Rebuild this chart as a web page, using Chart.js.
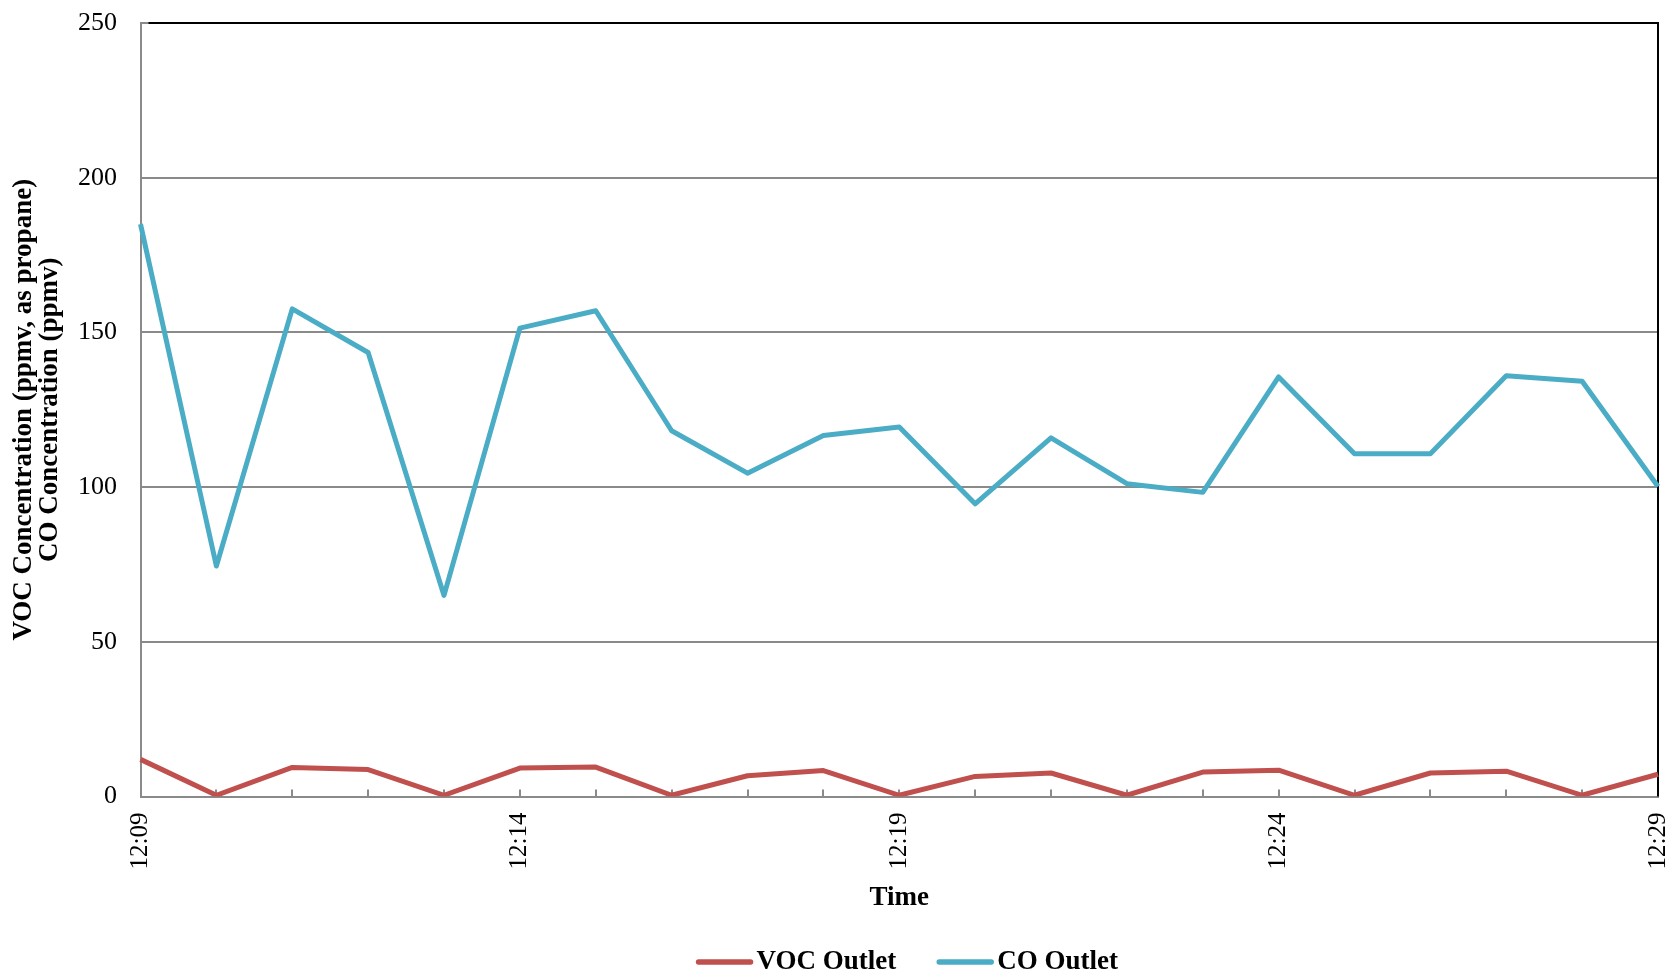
<!DOCTYPE html>
<html>
<head>
<meta charset="utf-8">
<title>VOC and CO Outlet Concentration</title>
<script src="https://cdn.jsdelivr.net/npm/chart.js@4.4.1/dist/chart.umd.min.js"></script>
<style>
  html, body { margin: 0; padding: 0; background: #ffffff; }
  #wrap { width: 1670px; height: 976px; position: relative; }
</style>
</head>
<body>
<div id="wrap"><canvas id="chart" width="1670" height="976"></canvas></div>
<script>
// One reading per minute
const timeLabels = [
  '12:09', '12:10', '12:11', '12:12', '12:13', '12:14', '12:15',
  '12:16', '12:17', '12:18', '12:19', '12:20', '12:21', '12:22',
  '12:23', '12:24', '12:25', '12:26', '12:27', '12:28', '12:29'
];

// VOC outlet, ppmv as propane
const vocOutlet = [
  12.0, 0.4, 9.4, 8.7, 0.4, 9.2, 9.5,
  0.4, 6.7, 8.4, 0.4, 6.5, 7.6, 0.4,
  7.9, 8.5, 0.4, 7.6, 8.2, 0.4, 7.2
];

// CO outlet, ppmv
const coOutlet = [
  185.0, 74.5, 157.6, 143.5, 65.0, 151.4, 157.0,
  118.2, 104.5, 116.7, 119.4, 94.6, 115.9, 101.1,
  98.3, 135.6, 110.8, 110.8, 136.0, 134.2, 100.2
];

// Value axis range and step
const yMin = 0;
const yMax = 250;
const yStep = 50;

// Only every fifth time label is printed
const labelEvery = 5;

const seriesNames = ['VOC Outlet', 'CO Outlet'];
const seriesColors = ['#C0504D', '#4BACC6'];

const SERIF = '"Liberation Serif", "Times New Roman", serif';
const GRID_GRAY = '#8a8a8a';

// Small inward tick marks on the time axis plus the black frame on top and right
const frameAndTicks = {
  id: 'frameAndTicks',
  beforeDatasetsDraw(chart) {
    const { ctx, chartArea, scales } = chart;
    const x = scales.x;
    ctx.save();
    ctx.strokeStyle = GRID_GRAY;
    ctx.lineWidth = 2;
    ctx.beginPath();
    for (let i = 0; i < timeLabels.length; i++) {
      const px = Math.round(x.getPixelForValue(i));
      ctx.moveTo(px, chartArea.bottom);
      ctx.lineTo(px, chartArea.bottom - 7);
    }
    ctx.stroke();

    ctx.strokeStyle = '#000000';
    ctx.lineWidth = 2;
    ctx.beginPath();
    ctx.moveTo(chartArea.left + 8, chartArea.top);
    ctx.lineTo(chartArea.right, chartArea.top);
    ctx.lineTo(chartArea.right, chartArea.bottom);
    ctx.stroke();
    ctx.restore();
  }
};

// Legend with a short line swatch next to each series name
const lineLegend = {
  id: 'lineLegend',
  afterDraw(chart) {
    const { ctx, chartArea } = chart;
    const swatch = 56, gap = 4, itemGap = 41;
    ctx.save();
    ctx.font = 'bold 27px ' + SERIF;
    ctx.textBaseline = 'middle';
    ctx.textAlign = 'left';
    const items = chart.data.datasets.map(ds => ({
      text: ds.label, color: ds.borderColor, w: ctx.measureText(ds.label).width
    }));
    let total = 0;
    items.forEach((it, i) => { total += swatch + gap + it.w + (i ? itemGap : 0); });
    let cx = (chartArea.left + chartArea.right) / 2 + 8 - total / 2;
    const cy = 962;
    items.forEach(it => {
      ctx.strokeStyle = it.color;
      ctx.lineWidth = 5.5;
      ctx.lineCap = 'round';
      ctx.beginPath();
      ctx.moveTo(cx + 2, cy);
      ctx.lineTo(cx + swatch - 2, cy);
      ctx.stroke();
      ctx.fillStyle = '#000000';
      ctx.fillText(it.text, cx + swatch + gap, cy);
      cx += swatch + gap + it.w + itemGap;
    });
    ctx.restore();
  }
};

new Chart(document.getElementById('chart'), {
  type: 'line',
  data: {
    labels: timeLabels,
    datasets: [
      {
        label: seriesNames[0],
        data: vocOutlet,
        borderColor: seriesColors[0],
        backgroundColor: seriesColors[0],
        borderWidth: 5,
        pointRadius: 0,
        tension: 0,
        borderJoinStyle: 'round',
        fill: false
      },
      {
        label: seriesNames[1],
        data: coOutlet,
        borderColor: seriesColors[1],
        backgroundColor: seriesColors[1],
        borderWidth: 5,
        pointRadius: 0,
        tension: 0,
        borderJoinStyle: 'round',
        fill: false
      }
    ]
  },
  options: {
    responsive: false,
    animation: false,
    devicePixelRatio: 1,
    layout: { padding: { top: 23, right: 12, left: 0, bottom: 0 } },
    plugins: {
      legend: { display: false },
      tooltip: { enabled: false },
      title: { display: false }
    },
    scales: {
      x: {
        type: 'category',
        offset: false,
        border: { display: true, color: GRID_GRAY, width: 2 },
        grid: { display: true, drawOnChartArea: false, drawTicks: false },
        ticks: {
          autoSkip: false,
          minRotation: 90,
          maxRotation: 90,
          padding: 16,
          color: '#000000',
          font: { family: SERIF, size: 25 },
          callback: function (value, index) {
            return index % labelEvery === 0 ? timeLabels[index] : '';
          }
        },
        title: {
          display: true,
          text: 'Time',
          color: '#000000',
          font: { family: SERIF, size: 27, weight: 'bold', lineHeight: 1 },
          padding: { top: 0, bottom: 64.5 }
        },
        afterFit(scale) {
          scale.height = 179.5;
          scale.paddingLeft = 0;
          scale.paddingRight = 0;
        }
      },
      y: {
        min: yMin,
        max: yMax,
        border: { display: true, color: GRID_GRAY, width: 2 },
        grid: { color: GRID_GRAY, lineWidth: 2, drawTicks: false },
        ticks: {
          stepSize: yStep,
          padding: 23.5,
          color: '#000000',
          font: { family: SERIF, size: 26 }
        },
        title: {
          display: true,
          text: ['VOC Concentration (ppmv, as propane)', 'CO Concentration (ppmv)'],
          color: '#000000',
          font: { family: SERIF, size: 27, weight: 'bold', lineHeight: 0.95 },
          padding: { top: 11.5, bottom: 0 }
        },
        afterFit(scale) {
          scale.width = 140.5;
          scale.paddingTop = 0;
          scale.paddingBottom = 0;
        }
      }
    }
  },
  plugins: [frameAndTicks, lineLegend]
});
</script>
</body>
</html>
